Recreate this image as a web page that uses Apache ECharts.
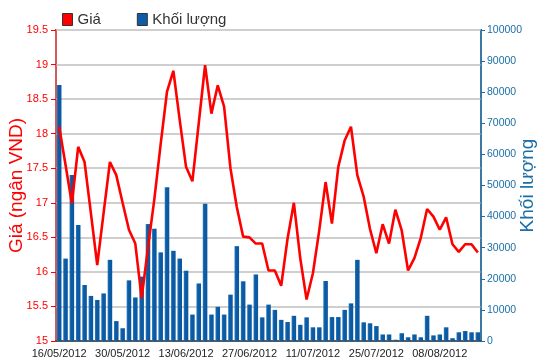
<!DOCTYPE html>
<html>
<head>
<meta charset="utf-8">
<script src="https://cdn.jsdelivr.net/npm/echarts@6/dist/echarts.min.js"></script>
<style>html,body{margin:0;padding:0;background:#fff}#c{width:550px;height:364px}</style>
</head>
<body>
<div id="c"></div>
<script>
const dates = ["16/05/2012","17/05/2012","18/05/2012","21/05/2012","22/05/2012","23/05/2012","24/05/2012","25/05/2012","28/05/2012","29/05/2012",
"30/05/2012","31/05/2012","01/06/2012","04/06/2012","05/06/2012","06/06/2012","07/06/2012","08/06/2012","11/06/2012","12/06/2012",
"13/06/2012","14/06/2012","15/06/2012","18/06/2012","19/06/2012","20/06/2012","21/06/2012","22/06/2012","25/06/2012","26/06/2012",
"27/06/2012","28/06/2012","29/06/2012","02/07/2012","03/07/2012","04/07/2012","05/07/2012","06/07/2012","09/07/2012","10/07/2012",
"11/07/2012","12/07/2012","13/07/2012","16/07/2012","17/07/2012","18/07/2012","19/07/2012","20/07/2012","23/07/2012","24/07/2012",
"25/07/2012","26/07/2012","27/07/2012","30/07/2012","31/07/2012","01/08/2012","02/08/2012","03/08/2012","06/08/2012","07/08/2012",
"08/08/2012","09/08/2012","10/08/2012","13/08/2012","14/08/2012","15/08/2012","16/08/2012"];

const price = [18.10,17.55,16.99,17.81,17.59,16.85,16.10,16.85,17.59,17.40,
17.00,16.61,16.41,15.62,16.35,17.05,17.85,18.61,18.91,18.20,
17.52,17.31,18.15,18.99,18.29,18.70,18.39,17.50,16.94,16.51,
16.50,16.41,16.41,16.02,16.02,15.80,16.48,17.00,16.20,15.60,
15.98,16.60,17.30,16.70,17.52,17.90,18.10,17.40,17.09,16.62,
16.27,16.69,16.41,16.90,16.60,16.02,16.20,16.49,16.91,16.80,
16.61,16.79,16.40,16.29,16.40,16.40,16.28];

const volume = [82300,26500,53400,37300,18000,14500,13200,15300,26100,6400,
4100,19500,14000,20700,37600,36100,28500,49400,29000,26500,
22600,8500,18500,44100,8500,11000,8500,14900,30500,19200,
11700,21400,7600,11700,10000,6800,6100,8100,5200,7600,
4400,4400,19300,7700,7700,10000,12100,26100,6000,5700,
4800,2100,2100,400,2500,1200,2100,1200,8100,1800,
2100,4400,900,2800,3200,2800,2800];

const priceTicks = {min:15, max:19.5, interval:0.5};
const volTicks = {min:0, max:100000, interval:10000};

const chart = echarts.init(document.getElementById('c'), null, {renderer:'canvas'});
const FN = "'Liberation Sans',Arial,sans-serif";
const RED = '#ff0000', BLUE = '#1b6ea8';
chart.setOption({
  animation:false,
  backgroundColor:'#fff',
  legend:{
    left:62, top:12, padding:0, itemWidth:10, itemHeight:12, itemGap:36,
    textStyle:{fontFamily:FN, fontSize:15, color:'#333'},
    data:[
      {name:'Giá', icon:'rect', itemStyle:{color:'#ff0000', borderColor:'#333', borderWidth:1}},
      {name:'Khối lượng', icon:'rect', itemStyle:{color:'#0c5da5', borderColor:'#333', borderWidth:1}}
    ]
  },
  grid:{left:56, right:69, top:30, bottom:23, containLabel:false, outerBoundsMode:'none',
        show:true, borderColor:'#444', borderWidth:2, backgroundColor:'transparent'},
  xAxis:{
    type:'category', data:dates, boundaryGap:true,
    axisLine:{lineStyle:{color:'#333', width:1.5}},
    axisTick:{alignWithLabel:true, interval:9, length:5, lineStyle:{color:'#333'}},
    axisLabel:{interval:9, color:'#222', fontFamily:FN, fontSize:11, margin:7, hideOverlap:false, showMinLabel:true},
    splitLine:{show:false}
  },
  yAxis:[
    {type:'value', min:priceTicks.min, max:priceTicks.max, interval:priceTicks.interval, position:'left',
     name:'Giá (ngân VND)', nameLocation:'middle', nameGap:30, nameRotate:90, nameMoveOverlap:false,
     nameTextStyle:{color:RED, fontFamily:FN, fontSize:19},
     axisLine:{show:true, lineStyle:{color:'#ff6060', width:1.5}},
     axisTick:{show:true, length:5, lineStyle:{color:RED}},
     axisLabel:{color:RED, fontFamily:FN, fontSize:11, margin:8, formatter:function(v){return String(v);}},
     splitLine:{show:true, lineStyle:{color:'#cfcfcf', width:2}}
    },
    {type:'value', min:volTicks.min, max:volTicks.max, interval:volTicks.interval, position:'right',
     name:'Khối lượng', nameLocation:'middle', nameGap:37, nameRotate:90, nameMoveOverlap:false,
     nameTextStyle:{color:BLUE, fontFamily:FN, fontSize:19},
     axisLine:{show:true, lineStyle:{color:'#3a8ac0', width:1.5}},
     axisTick:{show:true, length:4, lineStyle:{color:BLUE}},
     axisLabel:{color:BLUE, fontFamily:FN, fontSize:10.5, margin:6, formatter:function(v){return String(v);}},
     splitLine:{show:false}
    }
  ],
  series:[
    {name:'Khối lượng', type:'bar', yAxisIndex:1, data:volume, barWidth:'72%', z:2,
     itemStyle:{color:new echarts.graphic.LinearGradient(0,0,1,0,[{offset:0,color:'#2f7fc4'},{offset:0.3,color:'#0c5da5'},{offset:1,color:'#0a57a0'}])}},
    {name:'Giá', type:'line', yAxisIndex:0, data:price, symbol:'none', z:3,
     lineStyle:{color:RED, width:2.6}, itemStyle:{color:RED}}
  ]
});
</script>
</body>
</html>
